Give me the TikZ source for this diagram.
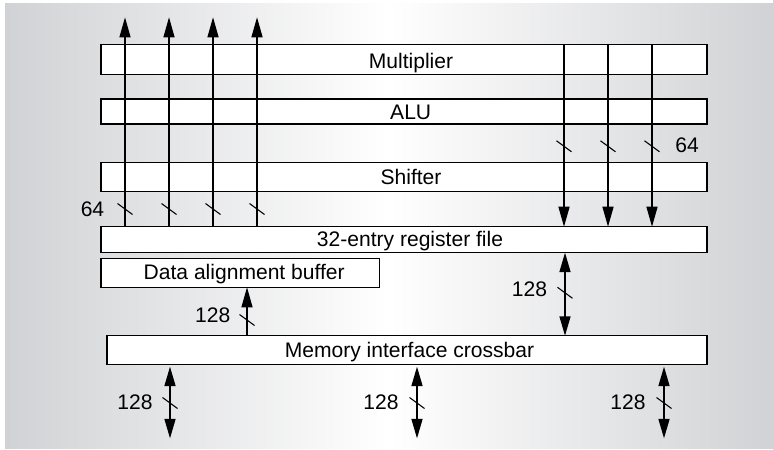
\documentclass[tikz,border=0pt]{standalone}
\usepackage{fontspec}
\setmainfont{Liberation Sans}
\usetikzlibrary{arrows.meta}
\definecolor{edgegray}{RGB}{209,210,213}
\tikzset{
  blk/.style={draw=black, fill=white, line width=0.95pt, inner sep=0pt, outer sep=0pt},
  txt/.style={font=\fontsize{15.8pt}{18pt}\selectfont, inner sep=0pt, anchor=base},
  bus/.style={line width=1pt, -{Triangle[length=15pt,width=8.25pt]}},
  dbus/.style={line width=1pt, {Triangle[length=14.5pt,width=8.25pt]}-{Triangle[length=14.5pt,width=8.25pt]}},
  tick/.style={line width=0.8pt},
}
\begin{document}
\begin{tikzpicture}[x=0.75pt, y=-0.75pt]
\useasboundingbox (0,0) rectangle (773,449);
% backdrop
\shade[left color=edgegray, right color=edgegray, middle color=white] (5,4) rectangle (773,448);

% functional units
\node[blk, minimum width=454.5pt, minimum height=22.35pt] (mul) at (404,59.4) {};
\node[blk, minimum width=454.5pt, minimum height=18.75pt] (alu) at (404,111.5) {};
\node[blk, minimum width=454.5pt, minimum height=21.75pt] (shf) at (404,177) {};
\node[blk, minimum width=454.5pt, minimum height=19.5pt] (reg) at (404,239.7) {};
\node[blk, minimum width=208.7pt, minimum height=21.75pt] (dab) at (240.15,272.8) {};
\node[blk, minimum width=450pt, minimum height=21.75pt] (mic) at (407,350.2) {};

\node[txt] (mul-t) at (411,68.3) {Multiplier};
\node[txt] (alu-t) at (410.7,120) {ALU};
\node[txt] (shf-t) at (411,184) {Shifter};
\node[txt] (reg-t) at (410,246.3) {32-entry register file};
\node[txt] (dab-t) at (244.2,279) {Data alignment buffer};
\node[txt] (mic-t) at (409.5,357.3) {Memory interface crossbar};

% column positions and free arrow ends
\coordinate (u1) at (125,17.3);
\coordinate (u2) at (169,17.3);
\coordinate (u3) at (213,17.3);
\coordinate (u4) at (257,17.3);
\coordinate (d1) at (564,0);
\coordinate (d2) at (608,0);
\coordinate (d3) at (652,0);
\coordinate (a1) at (247,0);
\coordinate (b1) at (565,0);
\coordinate (e1) at (170,438.3);
\coordinate (e2) at (417,438.3);
\coordinate (e3) at (664,438.3);

% 64-bit result buses going up
\foreach \c in {u1,u2,u3,u4}
  \draw[bus] (reg.north -| \c) -- (\c);
% 64-bit operand buses going down
\foreach \c in {d1,d2,d3}
  \draw[bus] (mul.north -| \c) -- (reg.north -| \c);
% 128-bit paths
\draw[bus] (mic.north -| a1) -- (dab.south -| a1);
\draw[dbus] (reg.south -| b1) -- (mic.north -| b1);
\foreach \c in {e1,e2,e3}
  \draw[dbus] ([yshift=-1.5pt]mic.south -| \c) -- (\c);

% bus-width ticks
\foreach \x in {125,169,213,257}
  \draw[tick] (\x-7.5,209-5.5) -- (\x+7.5,209+5.5);
\foreach \x in {564,608,652}
  \draw[tick] (\x-7.5,146.3-5.5) -- (\x+7.5,146.3+5.5);
\draw[tick] (247-7.5,320-5.5) -- (247+7.5,320+5.5);
\draw[tick] (565-7.5,292.8-5.5) -- (565+7.5,292.8+5.5);
\foreach \x in {170,417,664}
  \draw[tick] (\x-7.5,403-5.5) -- (\x+7.5,403+5.5);

% bus-width labels
\node[txt] (w64a) at (92.5,216) {64};
\node[txt] (w64b) at (687,152.5) {64};
\node[txt] (w128a) at (212.7,322.3) {128};
\node[txt] (w128b) at (529.5,296.7) {128};
\node[txt] (w128c) at (135,409) {128};
\node[txt] (w128d) at (381,409) {128};
\node[txt] (w128e) at (628,409) {128};
\end{tikzpicture}
\end{document}
